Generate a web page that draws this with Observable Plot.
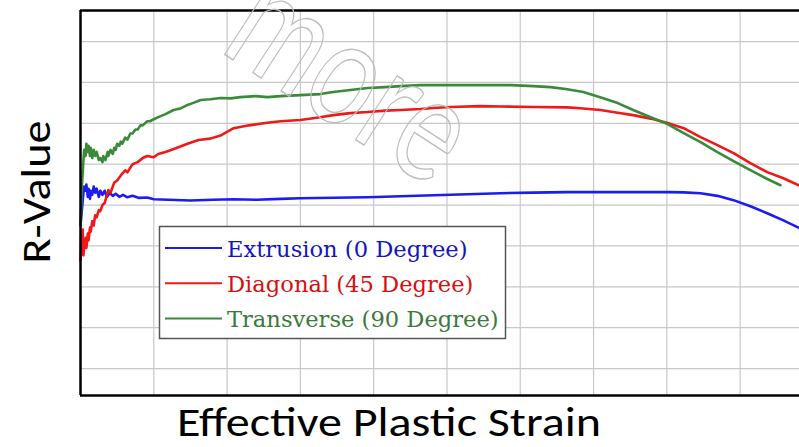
<!DOCTYPE html>
<html>
<head>
<meta charset="utf-8">
<script src="https://cdn.jsdelivr.net/npm/d3@7"></script>
<script src="https://cdn.jsdelivr.net/npm/@observablehq/plot@0.6"></script>
<style>
  html, body { margin: 0; padding: 0; background: #fff; overflow: hidden; }
  #wrap { position: relative; width: 799px; height: 447px; }
  #wrap svg { position: absolute; left: 0; top: 0; }
</style>
</head>
<body>
<div id="wrap"></div>
<script>
// Series values: [effective plastic strain, R-value]
const extrusion = [
  [0,1.10],[0.002,1.18],[0.003,1.22],[0.004,1.26],[0.005,1.29],[0.007,1.27],[0.008,1.30],[0.010,1.24],
  [0.011,1.28],[0.013,1.23],[0.014,1.27],[0.016,1.25],[0.018,1.29],[0.020,1.26],[0.022,1.28],[0.025,1.24],
  [0.027,1.27],[0.030,1.25],[0.033,1.27],[0.036,1.24],[0.040,1.26],[0.044,1.245],[0.048,1.255],[0.053,1.24],
  [0.058,1.25],[0.064,1.238],[0.071,1.245],[0.080,1.235],[0.091,1.237],[0.100,1.228],[0.120,1.226],
  [0.150,1.222],[0.180,1.226],[0.209,1.228],[0.240,1.226],[0.273,1.230],[0.300,1.233],[0.345,1.236],
  [0.392,1.238],[0.437,1.243],[0.482,1.248],[0.528,1.253],[0.573,1.258],[0.618,1.261],[0.664,1.263],
  [0.709,1.263],[0.754,1.263],[0.801,1.263],[0.823,1.262],[0.846,1.258],[0.869,1.245],[0.891,1.224],
  [0.914,1.194],[0.937,1.160],[0.959,1.125],[0.981,1.087]
];
const diagonal = [
  [0,0.929],[0.001,1.05],[0.002,0.96],[0.003,1.08],[0.004,0.954],[0.005,1.00],[0.007,1.04],[0.008,0.99],
  [0.010,1.06],[0.011,1.027],[0.013,1.09],[0.014,1.07],[0.016,1.12],[0.018,1.10],[0.020,1.15],[0.022,1.14],
  [0.025,1.175],[0.027,1.17],[0.030,1.20],[0.033,1.21],[0.038,1.273],[0.041,1.26],[0.046,1.31],[0.050,1.32],
  [0.055,1.345],[0.061,1.37],[0.064,1.36],[0.071,1.40],[0.078,1.41],[0.085,1.43],[0.091,1.44],[0.100,1.434],
  [0.106,1.45],[0.116,1.46],[0.130,1.478],[0.146,1.50],[0.161,1.518],[0.177,1.525],[0.191,1.54],
  [0.209,1.576],[0.230,1.59],[0.255,1.603],[0.273,1.610],[0.300,1.616],[0.327,1.630],[0.345,1.640],
  [0.368,1.650],[0.392,1.655],[0.416,1.662],[0.437,1.665],[0.464,1.670],[0.482,1.675],[0.505,1.680],
  [0.546,1.684],[0.573,1.682],[0.618,1.680],[0.664,1.678],[0.682,1.674],[0.709,1.665],[0.733,1.652],
  [0.754,1.640],[0.778,1.623],[0.801,1.601],[0.823,1.576],[0.846,1.532],[0.869,1.493],[0.891,1.454],
  [0.914,1.405],[0.937,1.361],[0.959,1.331],[0.980,1.297]
];
const transverse = [
  [0,1.101],[0.002,1.30],[0.004,1.42],[0.005,1.47],[0.007,1.44],[0.008,1.50],[0.010,1.46],[0.011,1.49],
  [0.013,1.44],[0.014,1.48],[0.016,1.43],[0.018,1.47],[0.020,1.44],[0.022,1.46],[0.025,1.42],[0.027,1.43],
  [0.030,1.41],[0.031,1.44],[0.034,1.42],[0.037,1.46],[0.038,1.44],[0.041,1.47],[0.044,1.45],[0.046,1.48],
  [0.048,1.47],[0.050,1.50],[0.053,1.49],[0.055,1.51],[0.057,1.50],[0.061,1.53],[0.064,1.52],[0.068,1.55],
  [0.071,1.55],[0.075,1.57],[0.078,1.57],[0.082,1.59],[0.085,1.59],[0.091,1.61],[0.095,1.61],[0.100,1.62],
  [0.106,1.63],[0.116,1.645],[0.127,1.665],[0.136,1.672],[0.146,1.69],[0.154,1.70],[0.164,1.714],
  [0.177,1.718],[0.191,1.724],[0.205,1.722],[0.218,1.728],[0.239,1.733],[0.255,1.728],[0.273,1.733],
  [0.300,1.738],[0.327,1.743],[0.345,1.753],[0.368,1.763],[0.392,1.773],[0.416,1.777],[0.437,1.782],
  [0.464,1.787],[0.505,1.787],[0.546,1.787],[0.587,1.787],[0.618,1.782],[0.641,1.777],[0.662,1.768],
  [0.686,1.753],[0.709,1.728],[0.733,1.699],[0.754,1.665],[0.778,1.630],[0.801,1.596],[0.823,1.552],
  [0.846,1.508],[0.869,1.459],[0.891,1.415],[0.914,1.371],[0.935,1.331],[0.955,1.297]
];
const seriesNames = ["Extrusion (0 Degree)", "Diagonal (45 Degree)", "Transverse (90 Degree)"];
const lineColors = ["#1c1cf0", "#f01818", "#3a8a3a"];
const textColors = ["#1414c0", "#d41010", "#3a7a3a"];
const xGrid = [0.1,0.2,0.3,0.4,0.5,0.6,0.7,0.8,0.9];
const yGrid = [0.4,0.6,0.8,1.0,1.2,1.4,1.6,1.8,2.0];
const xDomain = [0, 0.981];
const yDomain = [0.268, 2.152];
const xLabel = "Effective Plastic Strain";
const yLabel = "R-Value";
const watermark = "more";

const toRows = (arr) => arr.map(([s, r]) => ({strain: s, r}));
const labelFont = "Carlito, 'Open Sans', Lato, sans-serif";

const chart = Plot.plot({
  width: 799,
  height: 447,
  marginLeft: 80,
  marginRight: 0,
  marginTop: 10,
  marginBottom: 52,
  x: {domain: xDomain, axis: null},
  y: {domain: yDomain, axis: null},
  marks: [
    Plot.gridX(xGrid, {stroke: "#c8c8c8", strokeOpacity: 1, strokeWidth: 1.2}),
    Plot.gridY(yGrid, {stroke: "#c8c8c8", strokeOpacity: 1, strokeWidth: 1.2}),
    Plot.line(toRows(extrusion), {x: "strain", y: "r", stroke: lineColors[0], strokeWidth: 2.6}),
    Plot.line(toRows(diagonal), {x: "strain", y: "r", stroke: lineColors[1], strokeWidth: 2.6}),
    Plot.line(toRows(transverse), {x: "strain", y: "r", stroke: lineColors[2], strokeWidth: 2.6}),
    Plot.ruleX([xDomain[0]], {stroke: "#000", strokeWidth: 2.5}),
    Plot.ruleY([yDomain[0], yDomain[1]], {stroke: "#000", strokeWidth: 2.5}),
    Plot.text([xLabel], {frameAnchor: "bottom", dx: -51, dy: 40, fontSize: 40, fontFamily: labelFont, fill: "#000", textAnchor: "middle"}),
    Plot.text([yLabel], {frameAnchor: "left", rotate: -90, dx: -44, dy: -11, fontSize: 42, fontFamily: labelFont, fill: "#000", textAnchor: "middle"})
  ]
});

d3.select(chart).selectAll("text")
  .filter(function() { return this.textContent === xLabel; })
  .attr("textLength", 424).attr("lengthAdjust", "spacingAndGlyphs");
d3.select(chart).selectAll("text")
  .filter(function() { return this.textContent === yLabel; })
  .attr("textLength", 143).attr("lengthAdjust", "spacingAndGlyphs");

const wrap = document.getElementById("wrap");
wrap.appendChild(chart);

// Overlay: watermark and legend box
const ov = d3.select(wrap).append("svg")
  .attr("width", 799).attr("height", 447)
  .style("pointer-events", "none");

ov.append("text")
  .attr("transform", "translate(218,50) rotate(33) scale(0.9,1.2)")
  .attr("font-family", "Lato, 'Open Sans', sans-serif")
  .attr("font-weight", 400)
  .attr("font-size", 125)
  .attr("fill", "none")
  .attr("stroke", "#bdbdbd")
  .attr("stroke-width", 1.2)
  .text(watermark);

const lg = ov.append("g");
lg.append("rect")
  .attr("x", 159.5).attr("y", 226.5).attr("width", 346).attr("height", 112)
  .attr("fill", "#fff").attr("stroke", "#555").attr("stroke-width", 1.5);
seriesNames.forEach((name, i) => {
  const cy = 248 + i * 35.3;
  lg.append("line")
    .attr("x1", 165).attr("x2", 222).attr("y1", cy).attr("y2", cy)
    .attr("stroke", lineColors[i]).attr("stroke-width", 2);
  lg.append("text")
    .attr("x", 227).attr("y", cy + 8.5)
    .attr("font-family", "'DejaVu Serif', 'Liberation Serif', serif")
    .attr("font-size", 22.6)
    .attr("fill", textColors[i])
    .text(name);
});
</script>
</body>
</html>
